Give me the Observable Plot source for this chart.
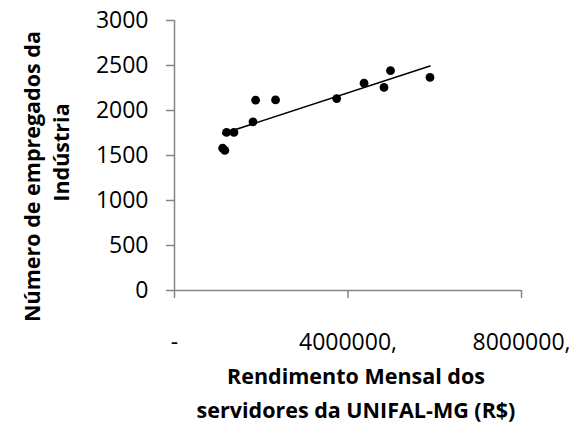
<!DOCTYPE html>
<html>
<head>
<meta charset="utf-8">
<script src="https://cdn.jsdelivr.net/npm/d3@7"></script>
<script src="https://cdn.jsdelivr.net/npm/@observablehq/plot@0.6"></script>
<style>
  html, body { margin: 0; padding: 0; background: #fff; }
  #chart { width: 576px; height: 438px; }
</style>
</head>
<body>
<div id="chart"></div>
<script>
// Monthly income of UNIFAL-MG staff (R$) vs. number of industry employees
const rendimento = [1110000, 1160000, 1200000, 1370000, 1810000, 1870000, 2330000, 3740000, 4370000, 4830000, 4980000, 5890000];
const empregados = [1581, 1556, 1756, 1756, 1874, 2115, 2118, 2133, 2304, 2256, 2444, 2367];

const xTicks = [0, 4000000, 8000000];
const yTicks = [0, 500, 1000, 1500, 2000, 2500, 3000];

const xTitle = ["Rendimento Mensal dos", "servidores da UNIFAL-MG (R$)"];
const yTitle = ["Número de empregados da", "Indústria"];

const data = rendimento.map((r, i) => ({r, e: empregados[i]}));

const axisGray = "#868686";
const font = "'Open Sans', Lato, sans-serif";

const chart = Plot.plot({
  width: 576,
  height: 438,
  marginLeft: 174,
  marginRight: 55,
  marginTop: 20,
  marginBottom: 148,
  style: {fontSize: "20px", fontFamily: font, color: "#000", background: "#fff"},
  x: {domain: [0, 8000000]},
  y: {domain: [0, 3000]},
  marks: [
    Plot.ruleY([0], {stroke: axisGray, strokeWidth: 1.5}),
    Plot.ruleX([0], {stroke: axisGray, strokeWidth: 1.5}),
    Plot.axisX({
      ticks: xTicks, tickSize: 8, tickPadding: 35, stroke: axisGray, strokeWidth: 1.5,
      fill: "#000", label: null, fontSize: 23,
      tickFormat: d => d === 0 ? "-" : d + ","
    }),
    Plot.axisY({
      ticks: yTicks, tickSize: 8, tickPadding: 18, stroke: axisGray, strokeWidth: 1.5,
      fill: "#000", label: null, fontSize: 23, tickFormat: d => String(d)
    }),
    Plot.linearRegressionY(data, {x: "r", y: "e", ci: 0, stroke: "#000", strokeWidth: 1.6}),
    Plot.dot(data, {x: "r", y: "e", r: 4.4, fill: "#000", stroke: "none"}),
    // axis titles
    Plot.text([xTitle[0]], {frameAnchor: "bottom", dx: 8, dy: 93, fontWeight: "bold", fontSize: 21.5, fill: "#000"}),
    Plot.text([xTitle[1]], {frameAnchor: "bottom", dx: 8, dy: 127, fontWeight: "bold", fontSize: 21.5, fill: "#000"}),
    Plot.text([yTitle[0]], {frameAnchor: "left", dx: -141, dy: 21, rotate: -90, textAnchor: "middle", fontWeight: "bold", fontSize: 21.5, fill: "#000"}),
    Plot.text([yTitle[1]], {frameAnchor: "left", dx: -112, dy: -3, rotate: -90, textAnchor: "middle", fontWeight: "bold", fontSize: 21.5, fill: "#000"})
  ]
});

document.getElementById("chart").appendChild(chart);
</script>
</body>
</html>
